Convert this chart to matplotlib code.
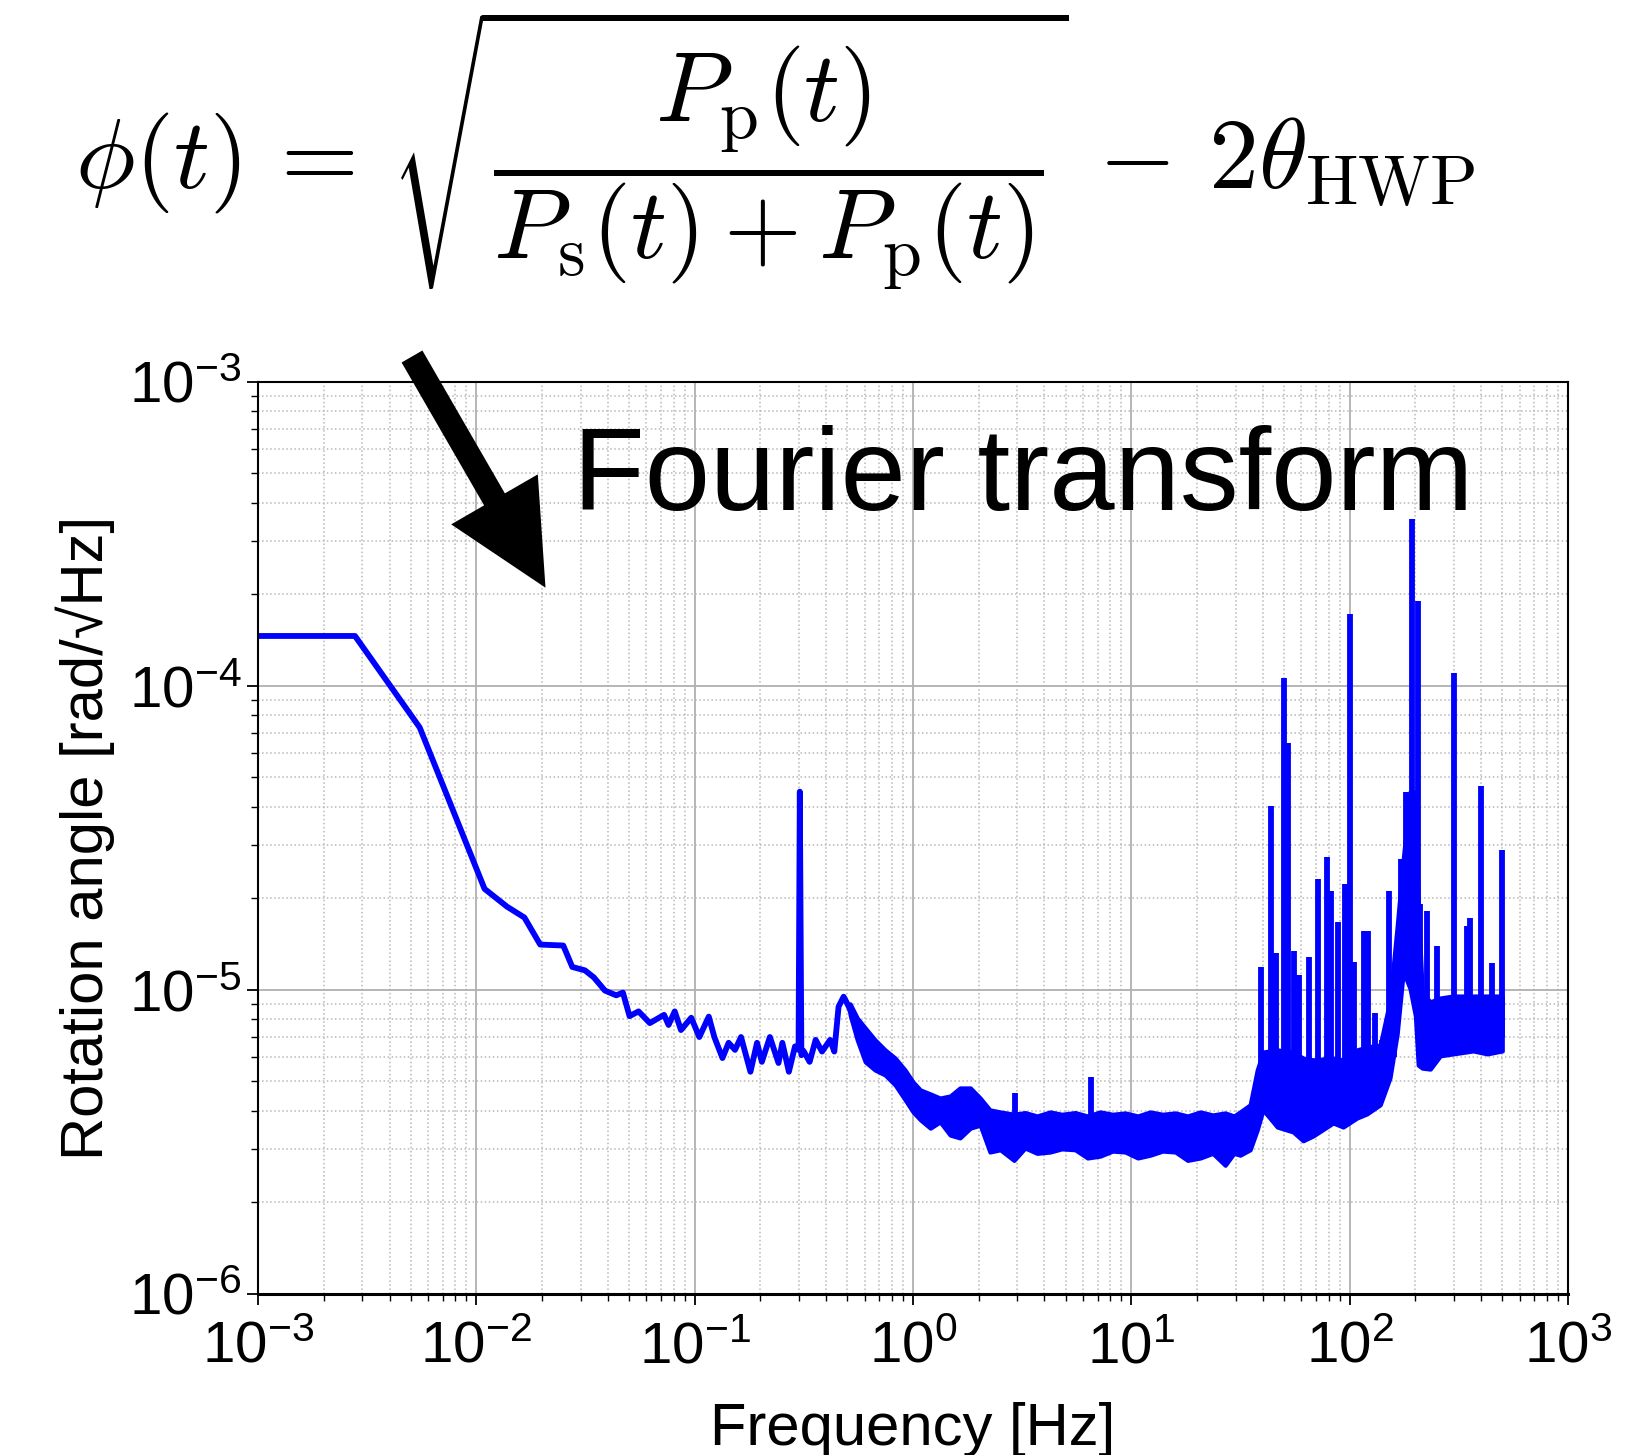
import matplotlib
matplotlib.use("Agg")
import matplotlib.pyplot as plt
from matplotlib.patches import FancyArrow

plt.rcParams["font.family"] = ["Liberation Sans", "DejaVu Sans"]
plt.rcParams["mathtext.fontset"] = "custom"
plt.rcParams["mathtext.rm"] = "Liberation Sans"
plt.rcParams["mathtext.it"] = "Liberation Sans:italic"
plt.rcParams["mathtext.bf"] = "Liberation Sans:bold"

# Low-frequency part of the spectrum
trace_freq = [1.0e-3, 2.78e-3, 5.5e-3, 1.09e-2, 1.38e-2, 1.66e-2, 1.96e-2, 2.5e-2,
              2.75e-2, 3.14e-2, 3.45e-2, 3.88e-2, 4.37e-2, 4.69e-2, 5.03e-2, 5.53e-2,
              6.23e-2, 7.24e-2, 7.59e-2, 8.1e-2, 8.65e-2, 9.64e-2, 0.105, 0.116,
              0.123, 0.134, 0.143, 0.153, 0.163, 0.180, 0.193, 0.203, 0.221, 0.242,
              0.252, 0.270, 0.288, 0.299, 0.303, 0.308, 0.315, 0.336, 0.358, 0.383,
              0.417, 0.436, 0.456, 0.481, 0.508, 0.525]
trace_amp = [1.46e-4, 1.46e-4, 7.3e-5, 2.15e-5, 1.88e-5, 1.73e-5, 1.41e-5, 1.40e-5,
             1.19e-5, 1.16e-5, 1.1e-5, 9.95e-6, 9.6e-6, 9.8e-6, 8.2e-6, 8.5e-6,
             7.78e-6, 8.28e-6, 7.67e-6, 8.5e-6, 7.38e-6, 8.1e-6, 7.0e-6, 8.17e-6,
             7.0e-6, 5.97e-6, 6.7e-6, 6.35e-6, 7.0e-6, 5.38e-6, 6.7e-6, 5.8e-6,
             7.0e-6, 5.75e-6, 6.7e-6, 5.38e-6, 6.52e-6, 6.35e-6, 4.49e-5, 6.1e-6,
             6.3e-6, 5.8e-6, 6.85e-6, 6.27e-6, 6.85e-6, 6.27e-6, 8.81e-6, 9.5e-6,
             8.81e-6, 8.3e-6]

# Dense noisy part: lower / upper envelope
band_freq = [0.515, 0.555, 0.604, 0.67, 0.745, 0.828, 0.92, 1.0, 1.08, 1.2, 1.33,
             1.48, 1.64, 1.83, 2.03, 2.25, 2.51, 2.9, 3.26, 3.7, 4.25, 4.8, 5.53,
             6.3, 7.2, 8.2, 9.37, 10.7, 12.2, 13.9, 15.9, 18.1, 20.7, 23.6, 26.9,
             29.5, 31.5, 35.0, 37.7, 40.1, 46.6, 55.1, 61.2, 68.1, 84.0, 93.3, 108,
             120, 138, 153, 165, 176, 189, 200, 206, 215, 234, 260, 298, 368, 427, 500]
band_hi = [9.0e-6, 8.09e-6, 7.5e-6, 6.85e-6, 6.35e-6, 5.97e-6, 5.45e-6, 4.98e-6,
           4.69e-6, 4.55e-6, 4.41e-6, 4.48e-6, 4.76e-6, 4.76e-6, 4.41e-6, 4.03e-6,
           3.97e-6, 3.9e-6, 3.95e-6, 3.85e-6, 3.97e-6, 3.9e-6, 3.95e-6, 3.85e-6,
           3.97e-6, 3.9e-6, 3.94e-6, 3.85e-6, 3.97e-6, 3.9e-6, 3.94e-6, 3.85e-6,
           3.97e-6, 3.88e-6, 3.94e-6, 3.85e-6, 3.97e-6, 4.19e-6, 5.45e-6, 6.25e-6,
           6.35e-6, 6.25e-6, 5.97e-6, 5.89e-6, 5.97e-6, 5.89e-6, 6.35e-6, 6.49e-6,
           6.59e-6, 9.27e-6, 1.62e-5, 2.7e-5, 4.48e-5, 4.48e-5, 1.92e-5, 9.77e-6,
           9.14e-6, 9.41e-6, 9.55e-6, 9.55e-6, 9.55e-6, 9.55e-6]
band_lo = [8.28e-6, 6.85e-6, 5.8e-6, 5.45e-6, 5.25e-6, 4.87e-6, 4.35e-6, 3.97e-6,
           3.74e-6, 3.51e-6, 3.68e-6, 3.33e-6, 3.26e-6, 3.51e-6, 3.59e-6, 2.93e-6,
           2.98e-6, 2.75e-6, 3.02e-6, 2.9e-6, 2.93e-6, 3.0e-6, 2.98e-6, 2.8e-6,
           2.84e-6, 2.95e-6, 2.93e-6, 2.8e-6, 2.86e-6, 2.95e-6, 2.93e-6, 2.75e-6,
           2.8e-6, 2.9e-6, 2.65e-6, 2.9e-6, 2.86e-6, 2.98e-6, 3.46e-6, 4.03e-6,
           3.54e-6, 3.41e-6, 3.19e-6, 3.31e-6, 3.65e-6, 3.54e-6, 3.79e-6, 3.91e-6,
           4.19e-6, 5.14e-6, 7.16e-6, 1.15e-5, 1.01e-5, 8.21e-6, 5.66e-6, 5.53e-6,
           5.49e-6, 6.07e-6, 6.16e-6, 6.3e-6, 6.16e-6, 6.3e-6]

# Narrow lines sticking out of the noise
spike_freq = [2.93, 6.56, 39.4, 43.6, 46.0, 50.1, 52.1, 55.3, 58.6, 65.2, 71.9, 78.6,
              82.3, 88.3, 95.4, 100.5, 105, 115.9, 120.8, 130, 140.6, 150.7, 159,
              172.2, 181.6, 193.4, 204.5, 210.5, 225.8, 251, 301.5, 344, 356.6,
              400.6, 450.8, 501]
spike_peak = [4.58e-6, 5.19e-6, 1.19e-5, 4.03e-5, 1.32e-5, 1.06e-4, 6.5e-5, 1.34e-5,
              1.12e-5, 1.28e-5, 2.31e-5, 2.73e-5, 2.12e-5, 1.67e-5, 2.23e-5, 1.72e-4,
              1.24e-5, 1.56e-5, 1.56e-5, 8.4e-6, 6.85e-6, 2.12e-5, 1.03e-5, 2.69e-5,
              4.47e-5, 3.53e-4, 1.91e-4, 1.92e-5, 1.82e-5, 1.39e-5, 1.10e-4, 1.62e-5,
              1.73e-5, 4.7e-5, 1.23e-5, 2.88e-5]
spike_base = [3.5e-6, 3.5e-6, 4.5e-6, 4.5e-6, 4.5e-6, 4.5e-6, 4.5e-6, 4.5e-6,
              4.5e-6, 4.5e-6, 4.5e-6, 4.5e-6, 4.5e-6, 4.5e-6, 4.5e-6, 4.5e-6,
              4.5e-6, 4.5e-6, 4.5e-6, 4.5e-6, 4.5e-6, 6e-6, 6e-6, 1.5e-5,
              1.5e-5, 1.5e-5, 1.5e-5, 7e-6, 7e-6, 7e-6, 7e-6, 7e-6,
              7e-6, 7e-6, 7e-6, 7e-6]

formula = (r"$\phi(t) \,=\, \sqrt{\dfrac{P_{\mathrm{p}}(t)}{P_{\mathrm{s}}(t) + P_{\mathrm{p}}(t)}}"
           r" \,-\, 2\theta_{\mathrm{HWP}}$")

fig = plt.figure(figsize=(16.5, 14.55), dpi=100)
ax = fig.add_axes([0.1564, 0.1107, 0.7939, 0.6268])

blue = "#0000ff"
ax.plot(trace_freq, trace_amp, color=blue, lw=4.2, solid_joinstyle="round")
ax.fill_between(band_freq, band_lo, band_hi, color=blue, lw=3.0, edgecolor=blue)
ax.vlines(spike_freq, spike_base, spike_peak, color=blue, lw=4.2)

ax.set_xscale("log")
ax.set_yscale("log")
ax.set_xlim(1e-3, 1e3)
ax.set_ylim(1e-6, 1e-3)

ax.grid(True, which="major", color="#b0b0b0", lw=1.3, ls="-")
ax.grid(True, which="minor", color="#b8b8b8", lw=1.1, ls=":")
ax.set_axisbelow(True)

ax.tick_params(which="major", direction="out", length=8, width=1.3, labelsize=42,
               pad=4, top=False, right=False)
ax.tick_params(axis="x", which="major", pad=11)
ax.tick_params(which="minor", direction="out", length=5, width=1.0,
               top=False, right=False, labelleft=False, labelbottom=False)
for s in ax.spines.values():
    s.set_linewidth(1.5)
ax.spines["bottom"].set_linewidth(2.2)

ax.set_xlabel("Frequency [Hz]", fontsize=43, labelpad=20)
ax.set_ylabel("Rotation angle [rad/\u221aHz]", fontsize=43, labelpad=10)

fig.text(0.470, 0.897, formula, fontsize=72, math_fontfamily="cm",
         ha="center", va="center")
fig.text(0.347, 0.6495, "Fourier transform", fontsize=84.5, va="baseline", ha="left")

# big arrow from the formula down to the spectrum
fig.add_artist(FancyArrow(4.12, 10.985, 1.335, -2.312, width=0.24, head_width=1.0,
                          head_length=1.02, length_includes_head=True,
                          transform=fig.dpi_scale_trans, color="black", lw=0))

fig.savefig("out.png", dpi=100)
